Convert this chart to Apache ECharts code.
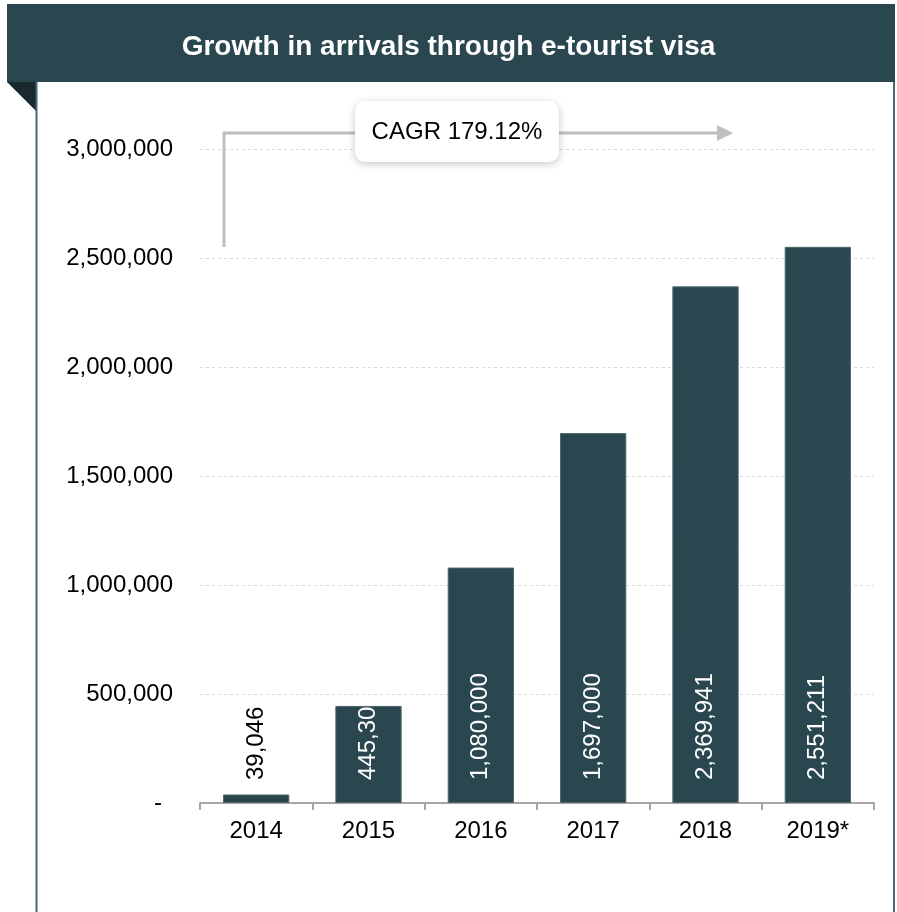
<!DOCTYPE html>
<html>
<head>
<meta charset="utf-8">
<script src="https://cdn.jsdelivr.net/npm/echarts@6/dist/echarts.min.js"></script>
<style>
html,body{margin:0;padding:0;background:#fff;}
#c{width:897px;height:912px;}
</style>
</head>
<body>
<div id="c"></div>
<script>
var categories = ['2014', '2015', '2016', '2017', '2018', '2019*'];
var arrivals = [39046, 445300, 1080000, 1697000, 2369941, 2551211];
var valueLabels = ['39,046', '445,30', '1,080,000', '1,697,000', '2,369,941', '2,551,211'];
var yTicks = [0, 500000, 1000000, 1500000, 2000000, 2500000, 3000000];
var titleText = 'Growth in arrivals through e-tourist visa';
var cagrText = 'CAGR 179.12%';

var FONT = '"Liberation Sans", Arial, sans-serif';
var DARK = '#2a474f';
var FS = 24;
var chart = echarts.init(document.getElementById('c'));

function fmt(v) {
  return v.toString().replace(/\B(?=(\d{3})+(?!\d))/g, ',');
}

var option = {
  backgroundColor: '#ffffff',
  animation: false,
  title: {
    text: titleText,
    left: 'center',
    top: 28,
    textStyle: { color: '#ffffff', fontSize: 28, fontWeight: 'bold', fontFamily: FONT }
  },
  grid: { left: 200, right: 23, top: 149, bottom: 109, containLabel: false },
  xAxis: {
    type: 'category',
    data: categories,
    axisLine: { show: true, lineStyle: { color: '#a6a6a6', width: 2 } },
    axisTick: { show: true, length: 7, lineStyle: { color: '#a6a6a6', width: 2 } },
    axisLabel: { color: '#000', fontSize: FS, fontFamily: FONT, margin: 16 }
  },
  yAxis: {
    type: 'value',
    min: yTicks[0],
    max: yTicks[yTicks.length - 1],
    interval: yTicks[1] - yTicks[0],
    axisLine: { show: false },
    axisTick: { show: false },
    splitLine: { show: true, lineStyle: { color: '#d9d9d9', type: [3, 3], width: 1 } },
    axisLabel: {
      color: '#000', fontSize: FS, fontFamily: FONT, margin: 27,
      formatter: function (v) { return v === 0 ? '{d|-}' : fmt(v); },
      rich: { d: { fontSize: FS, fontFamily: FONT, color: '#000', padding: [0, 11, 0, 0] } }
    }
  },
  series: [{
    type: 'bar',
    barWidth: '59%',
    data: arrivals.map(function (v, i) {
      return {
        value: v,
        label: { color: i === 0 ? '#000000' : '#ffffff' }
      };
    }),
    itemStyle: { color: DARK, borderColor: '#4d676d', borderWidth: 1 },
    label: {
      show: true,
      position: 'insideBottom',
      distance: 23,
      rotate: 90,
      align: 'left',
      verticalAlign: 'middle',
      fontSize: FS,
      fontFamily: FONT,
      formatter: function (p) { return valueLabels[p.dataIndex]; }
    }
  }],
  graphic: [
    { type: 'rect', z: -1, shape: { x: 7, y: 4, width: 888, height: 78 }, style: { fill: DARK } },
    { type: 'polygon', z: 1, shape: { points: [[7, 82], [36, 82], [36, 111]] }, style: { fill: '#182a2e' } },
    { type: 'line', z: 1, shape: { x1: 36.5, y1: 82, x2: 36.5, y2: 912 }, style: { stroke: '#4a6670', lineWidth: 2 } },
    { type: 'line', z: 1, shape: { x1: 894, y1: 82, x2: 894, y2: 912 }, style: { stroke: '#4a6670', lineWidth: 2 } },
    { type: 'polyline', z: 5, shape: { points: [[224, 247], [224, 133], [718, 133]] }, style: { stroke: '#bfbfbf', lineWidth: 3, fill: null } },
    { type: 'polygon', z: 5, shape: { points: [[717, 125], [733, 133], [717, 141]] }, style: { fill: '#bfbfbf' } },
    {
      type: 'rect', z: 10,
      shape: { x: 355, y: 101, width: 204, height: 61, r: 10 },
      style: { fill: '#ffffff', shadowBlur: 8, shadowColor: 'rgba(0,0,0,0.22)', shadowOffsetX: 0, shadowOffsetY: 2 }
    },
    {
      type: 'text', z: 11,
      x: 457, y: 132,
      style: { text: cagrText, fill: '#000', font: FS + 'px ' + FONT, align: 'center', verticalAlign: 'middle' }
    }
  ]
};
chart.setOption(option);
</script>
</body>
</html>
